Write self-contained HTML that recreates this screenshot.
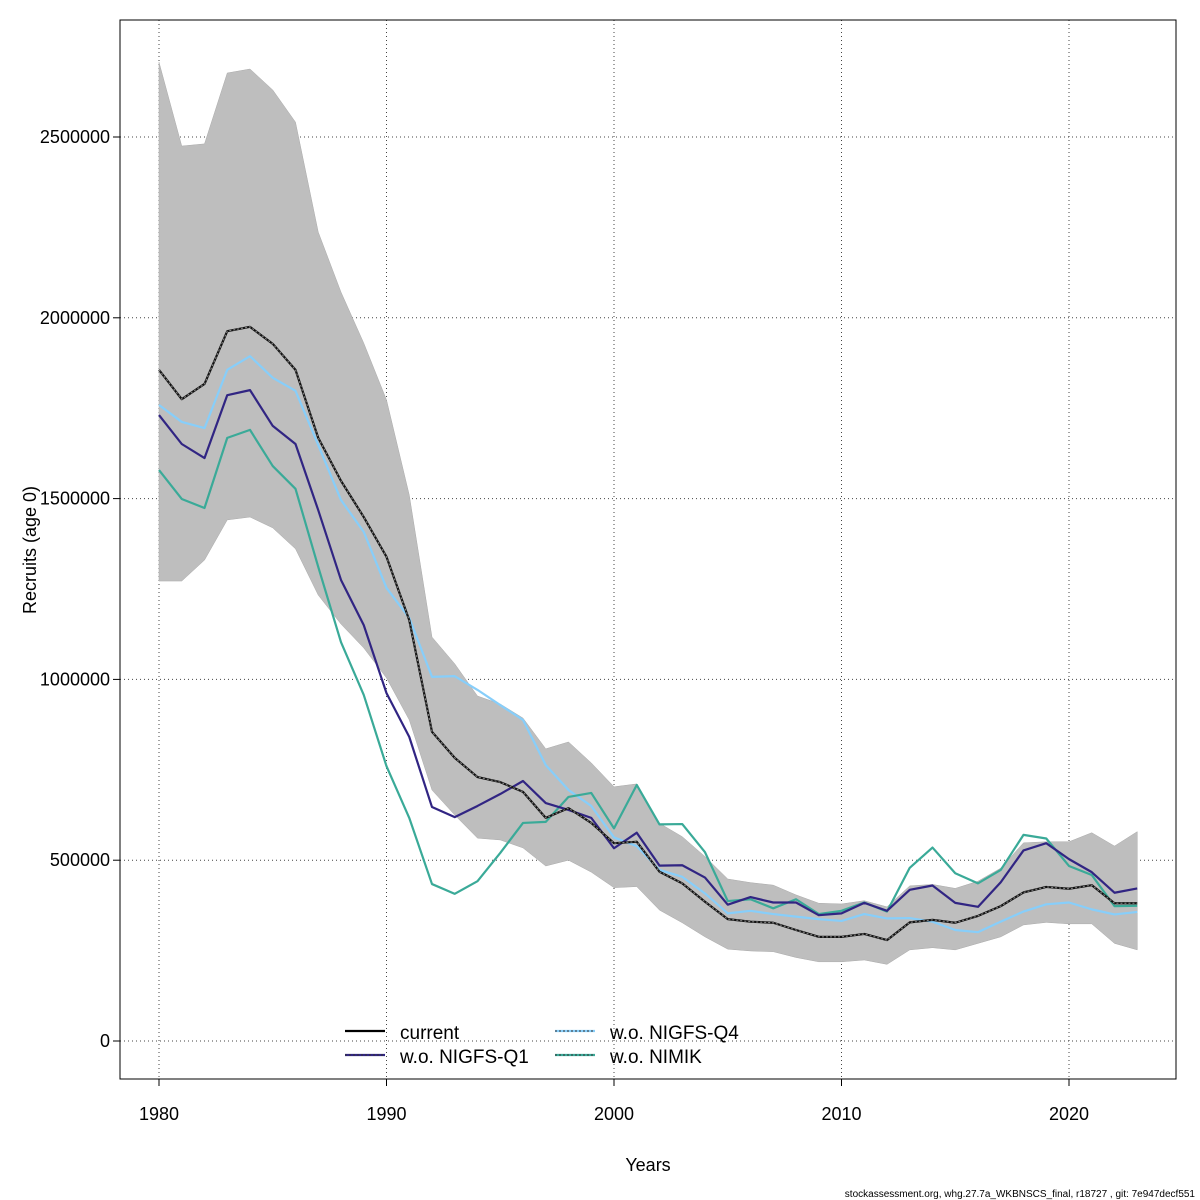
<!DOCTYPE html>
<html><head><meta charset="utf-8"><style>
html,body{margin:0;padding:0;background:#fff}
svg{display:block;font-family:"Liberation Sans",sans-serif}
</style></head><body>
<svg id="chart" width="1200" height="1200" viewBox="0 0 1200 1200">
<rect x="0" y="0" width="1200" height="1200" fill="#fff"/>
<g id="grid"></g>
<g id="band"></g>
<g id="lines"></g>
<g id="axes"></g>
<g id="legend"></g>
<text x="36" y="550" font-size="18" text-anchor="middle" transform="rotate(-90 36 550)">Recruits (age 0)</text>
<text x="648" y="1171" font-size="18" text-anchor="middle">Years</text>
<text x="1195" y="1197" font-size="10" text-anchor="end">stockassessment.org, whg.27.7a_WKBNSCS_final, r18727 , git: 7e947decf551</text>
</svg>
<script>
const years = [];
for (let y = 1980; y <= 2023; y++) years.push(y);
// values in millions of recruits
const current = [1.856,1.775,1.817,1.963,1.975,1.928,1.856,1.668,1.549,1.449,1.339,1.164,0.855,0.783,0.730,0.716,0.689,0.617,0.644,0.603,0.547,0.551,0.468,0.436,0.385,0.337,0.330,0.327,0.307,0.288,0.288,0.296,0.279,0.328,0.335,0.327,0.346,0.373,0.411,0.426,0.421,0.431,0.381,0.381];
const woQ1 = [1.731,1.651,1.612,1.786,1.800,1.701,1.651,1.468,1.275,1.150,0.962,0.841,0.647,0.619,0.650,0.683,0.719,0.658,0.639,0.617,0.533,0.576,0.485,0.486,0.452,0.377,0.398,0.383,0.383,0.348,0.353,0.382,0.360,0.418,0.430,0.382,0.371,0.439,0.527,0.547,0.503,0.467,0.410,0.422];
const woQ4 = [1.759,1.712,1.695,1.856,1.894,1.834,1.798,1.648,1.496,1.408,1.253,1.170,1.007,1.009,0.971,0.929,0.888,0.763,0.694,0.650,0.563,0.539,0.473,0.454,0.408,0.353,0.360,0.351,0.344,0.337,0.332,0.351,0.339,0.340,0.330,0.307,0.301,0.330,0.358,0.378,0.383,0.364,0.350,0.357];
const woNIMIK = [1.579,1.499,1.474,1.668,1.690,1.590,1.527,1.311,1.103,0.957,0.760,0.617,0.434,0.407,0.442,0.520,0.603,0.606,0.675,0.686,0.588,0.708,0.599,0.600,0.522,0.387,0.392,0.367,0.392,0.351,0.360,0.383,0.358,0.479,0.535,0.464,0.436,0.473,0.570,0.560,0.484,0.459,0.373,0.374];
const upper = [2.707,2.475,2.481,2.677,2.688,2.630,2.541,2.237,2.071,1.930,1.773,1.510,1.117,1.043,0.954,0.932,0.893,0.808,0.827,0.769,0.703,0.711,0.602,0.565,0.510,0.448,0.438,0.431,0.404,0.381,0.379,0.388,0.371,0.429,0.433,0.422,0.442,0.478,0.548,0.551,0.551,0.576,0.539,0.579];
const lower = [1.272,1.272,1.330,1.441,1.449,1.419,1.361,1.233,1.153,1.087,1.004,0.888,0.694,0.625,0.561,0.556,0.534,0.484,0.500,0.467,0.424,0.427,0.362,0.327,0.288,0.254,0.249,0.247,0.231,0.219,0.219,0.224,0.212,0.252,0.258,0.252,0.270,0.288,0.321,0.328,0.324,0.324,0.270,0.252];
const xTicks = [1980,1990,2000,2010,2020];
const yTicks = [0,500000,1000000,1500000,2000000,2500000];
const legendLabels = ["current","w.o. NIGFS-Q1","w.o. NIGFS-Q4","w.o. NIMIK"];

const NS = "http://www.w3.org/2000/svg";
const X = yr => 159 + (yr - 1980) * 22.75;
const Y = v => 1041 - v / 1e6 * 361.6;      // raw value
const YM = m => Y(m * 1e6);                  // millions
function mk(tag, attrs, parent){const e=document.createElementNS(NS,tag);for(const k in attrs)e.setAttribute(k,attrs[k]);parent.appendChild(e);return e;}
const grid=document.getElementById('grid'),band=document.getElementById('band'),lines=document.getElementById('lines'),axes=document.getElementById('axes'),legend=document.getElementById('legend');

xTicks.forEach(t=>{
  const l=mk('line',{x1:X(t),x2:X(t),y1:20,y2:1079,stroke:'#444','stroke-width':1,'stroke-dasharray':'1,3'},grid);
  
  
  const tk=mk('line',{x1:X(t),x2:X(t),y1:1079,y2:1086,stroke:'#000'},axes);
  
  
  const tx=mk('text',{x:X(t),y:1120,'font-size':18,'text-anchor':'middle'},axes);
  tx.textContent=t;
  
  
});
yTicks.forEach(t=>{
  const l=mk('line',{x1:120,x2:1176,y1:Y(t),y2:Y(t),stroke:'#444','stroke-width':1,'stroke-dasharray':'1,3'},grid);
  
  
  const tk=mk('line',{x1:113,x2:120,y1:Y(t),y2:Y(t),stroke:'#000'},axes);
  
  
  const tx=mk('text',{x:110,y:Y(t)+6,'font-size':18,'text-anchor':'end'},axes);
  tx.textContent=t;
  
  
});
const frame=mk('rect',{x:120,y:20,width:1056,height:1059,fill:'none',stroke:'#000','stroke-width':1},axes);



let pts=years.map((y,i)=>X(y)+','+YM(upper[i]));
pts=pts.concat(years.map((y,i)=>X(y)+','+YM(lower[i])).reverse());
const poly=mk('polygon',{points:pts.join(' '),fill:'#bebebe',stroke:'#aaa','stroke-width':0.5},band);



function series(arr,color,name,dot){
  const p=years.map((y,i)=>X(y)+','+YM(arr[i])).join(' ');
  const l=mk('polyline',{points:p,fill:'none',stroke:color,'stroke-width':2.2,'stroke-linejoin':'round'},lines);
  
  
  if(dot){
    const d=mk('polyline',{points:p,fill:'none',stroke:'#888','stroke-width':1,'stroke-dasharray':'2,2'},lines);
    
    
  }
}
series(woQ4,'#87cefa','line-wo-nigfs-q4');
series(woNIMIK,'#3aaa98','line-wo-nimik');
series(woQ1,'#312583','line-wo-nigfs-q1');
series(current,'#111','line-current',true);

const legColors=['#000','#312583','#87cefa','#3aaa98'];
const legPos=[[345,1033],[345,1057],[555,1033],[555,1057]];
legendLabels.forEach((lab,i)=>{
  const [lx,ly]=legPos[i];
  const l=mk('line',{x1:lx,x2:lx+40,y1:ly-2,y2:ly-2,stroke:legColors[i],'stroke-width':2.2},legend);
  
  
  if(i>0){mk('line',{x1:lx,x2:lx+40,y1:ly-2,y2:ly-2,stroke:'#333','stroke-width':1,'stroke-dasharray':'2,2'},legend);}
  const t=mk('text',{x:lx+55,y:ly+6,'font-size':19},legend);
  t.textContent=lab;
  
  
});
</script>
</body></html>
